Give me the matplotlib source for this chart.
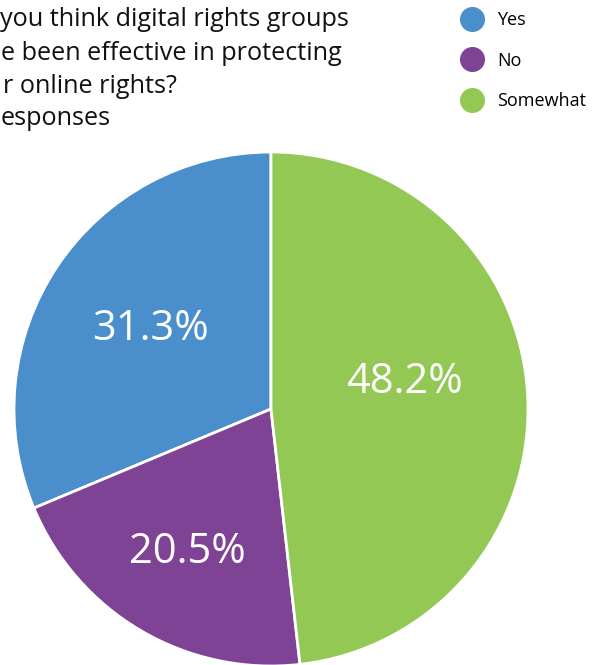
import numpy as np
import matplotlib
matplotlib.use("Agg")
import matplotlib.pyplot as plt
from matplotlib.lines import Line2D

plt.rcParams['font.family'] = ['Open Sans', 'DejaVu Sans']

# data
labels = ['Yes', 'No', 'Somewhat']
shares = [31.3, 20.5, 48.2]
colors = ['#4A8ECB', '#7E4395', '#93C854']
# visible part of the title (the left side is cut off in the reference)
title_lines = ['you think digital rights groups',
               'e been effective in protecting',
               'r online rights?',
               'esponses']

W, H = 608, 665
fig = plt.figure(figsize=(W / 100, H / 100), dpi=100)

# pie axes placed in pixel terms: centre (271, 409), radius 257
cx, cy, r = 271, 409, 257
ax = fig.add_axes([(cx - r) / W, (H - cy - r) / H, 2 * r / W, 2 * r / H])
wedges, _ = ax.pie(shares, colors=colors, startangle=90, counterclock=True,
                   wedgeprops=dict(edgecolor='white', linewidth=2))
ax.set_xlim(-1, 1)
ax.set_ylim(-1, 1)
ax.set_aspect('equal')
ax.axis('off')

# percentage labels, placed along each wedge's middle angle
dist = [0.565, 0.645, 0.53]
shift = [0, 0, 8]   # degrees, small nudge like the original renderer
for w, val, d, s in zip(wedges, shares, dist, shift):
    ang = np.deg2rad((w.theta1 + w.theta2) / 2 + s)
    ax.text(d * np.cos(ang), d * np.sin(ang), f'{val:.1f}%',
            ha='center', va='center', color='white', fontsize=30)

# title
base = [26, 60, 93, 125]
xs = [0, 1, 3, 1]
for txt, b, x in zip(title_lines, base, xs):
    fig.text(x / W, 1 - b / H, txt, ha='left', va='baseline',
             fontsize=18.2, color='#111111')

# legend
handles = [Line2D([], [], marker='o', linestyle='none', markersize=17,
                  markerfacecolor=c, markeredgecolor=c) for c in colors]
fig.legend(handles, labels, loc='upper left',
           bbox_to_anchor=(460 / W, 1 - 11 / H), frameon=False,
           fontsize=13, labelspacing=1.25, handletextpad=0.75,
           borderpad=0, borderaxespad=0, handlelength=1.3)

fig.savefig('out.png', dpi=100)
